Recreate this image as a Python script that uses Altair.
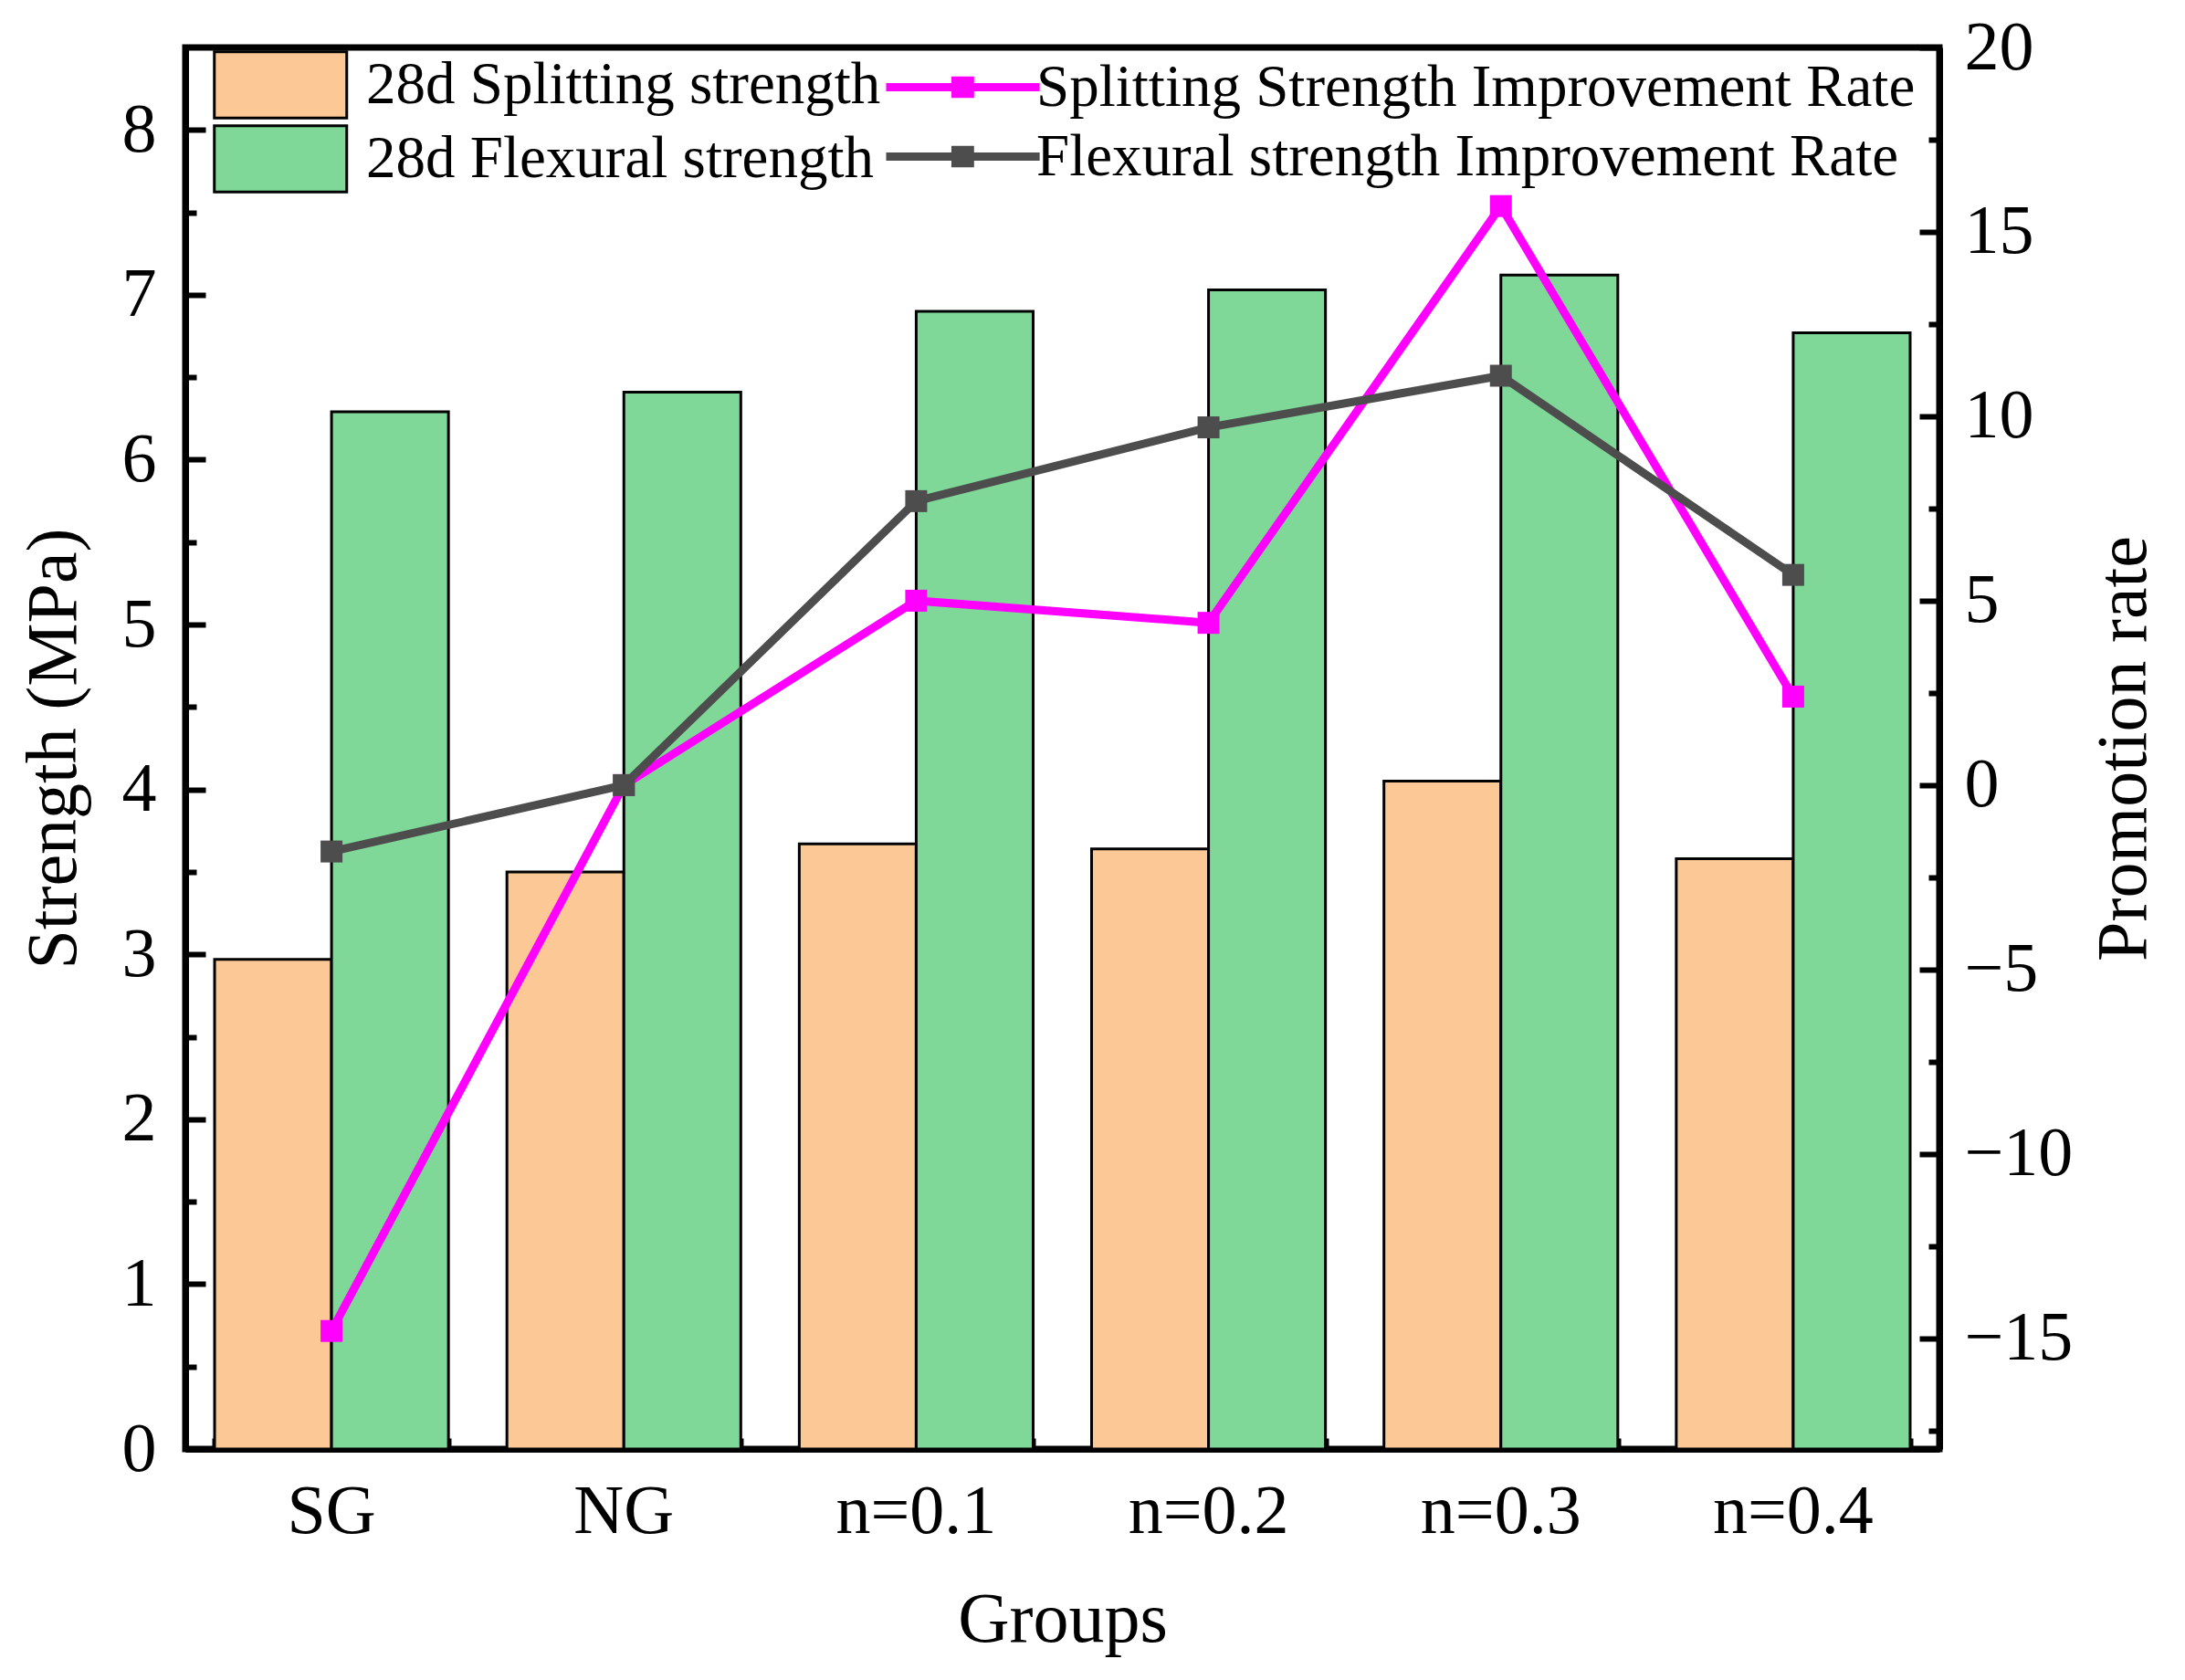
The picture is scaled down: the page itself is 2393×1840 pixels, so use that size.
import altair as alt
import pandas as pd

groups = ["SG", "NG", "n=0.1", "n=0.2", "n=0.3", "n=0.4"]
splitting_strength = [2.97, 3.50, 3.67, 3.64, 4.05, 3.58]
flexural_strength = [6.29, 6.41, 6.90, 7.03, 7.12, 6.77]
splitting_rate = [-14.8, 0.0, 5.0, 4.4, 15.7, 2.4]
flexural_rate = [-1.8, 0.0, 7.7, 9.7, 11.1, 5.7]

bar_series = ["28d Splitting strength", "28d Flexural strength"]
line_series = ["Splitting Strength Improvement Rate", "Flexural strength Improvement Rate"]
bar_colors = ["#FCC896", "#7FD898"]
line_colors = ["#FF00FF", "#4D4D4D"]

left_ticks = [0, 0.5, 1, 1.5, 2, 2.5, 3, 3.5, 4, 4.5, 5, 5.5, 6, 6.5, 7, 7.5, 8]
right_ticks = [-17.5, -15, -12.5, -10, -7.5, -5, -2.5, 0, 2.5, 5, 7.5, 10, 12.5, 15, 17.5, 20]

bars_df = pd.DataFrame({
    "group": groups + groups,
    "series": [bar_series[0]] * len(groups) + [bar_series[1]] * len(groups),
    "strength": splitting_strength + flexural_strength,
})
lines_df = pd.DataFrame({
    "group": groups + groups,
    "series": [line_series[0]] * len(groups) + [line_series[1]] * len(groups),
    "rate": splitting_rate + flexural_rate,
})

FONT = "Liberation Serif"
W, H = 1921, 1535

x_scale = alt.Scale(paddingInner=0.2, paddingOuter=0.1)

x_main = alt.X(
    "group:N", sort=groups, title="Groups", scale=x_scale,
    axis=alt.Axis(
        orient="bottom", offset=0,
        labelAngle=0, labelFontSize=76, labelFont=FONT, labelColor="black",
        labelPadding=53, titleFontSize=78, titleFont=FONT, titleFontWeight="normal",
        titleColor="black", titlePadding=42,
        domainColor="black", domainWidth=7,
        tickColor="black", tickWidth=6, tickSize={"expr": "-22"},
    ),
)
x_minor = alt.X(
    "group:N", sort=groups, scale=x_scale,
    axis=alt.Axis(
        orient="bottom", offset=0, title=None, labels=False, domain=False,
        tickBand="extent", tickColor="black", tickWidth=6, tickSize={"expr": "-12"},
    ),
)

bars = alt.Chart(bars_df).mark_bar(stroke="black", strokeWidth=3).encode(
    x=x_main,
    xOffset=alt.XOffset("series:N", sort=bar_series, scale=alt.Scale(paddingInner=0, paddingOuter=0)),
    y=alt.Y(
        "strength:Q", title="Strength (MPa)",
        scale=alt.Scale(domain=[0, 8.5], nice=False, zero=True),
        axis=alt.Axis(
            orient="left", values=left_ticks, grid=False,
            labelExpr="datum.value % 1 === 0 ? format(datum.value, 'd') : ''",
            labelFontSize=76, labelFont=FONT, labelColor="black", labelPadding=54,
            titleFontSize=78, titleFont=FONT, titleFontWeight="normal", titleColor="black",
            titlePadding=35,
            domainColor="black", domainWidth=7,
            tickColor="black", tickWidth=6,
            tickSize={"expr": "datum.value % 1 === 0 ? -22 : -12"},
        ),
    ),
    fill=alt.Fill(
        "series:N", sort=bar_series,
        scale=alt.Scale(domain=bar_series, range=bar_colors),
        legend=alt.Legend(
            title=None, orient="none", legendX=30, legendY=3,
            symbolType="M-1,-1H3V1H-1Z", symbolSize=5256,
            symbolStrokeColor="black", symbolStrokeWidth=3, symbolOpacity=1,
            labelFont=FONT, labelFontSize=65, labelColor="black", labelOffset=92,
            rowPadding=-6, padding=0, labelLimit=0,
        ),
    ),
)

line_legend = alt.Legend(
    title=None, orient="none", legendX=763, legendY=3,
    symbolType="M-1,0H3.67M1.11,-0.2H1.55V0.2H1.11Z", symbolSize=5184,
    symbolStrokeWidth=9, symbolOpacity=1,
    labelFont=FONT, labelFontSize=65, labelColor="black", labelOffset=88,
    rowPadding=2, padding=0, labelLimit=0,
)

y_right = alt.Y(
    "rate:Q", title="Promotion rate",
    scale=alt.Scale(domain=[-18, 20], nice=False, zero=False),
    axis=alt.Axis(
        orient="right", values=right_ticks, grid=False,
        labelExpr="datum.value % 5 === 0 ? datum.label : ''",
        labelFontSize=76, labelFont=FONT, labelColor="black", labelPadding=49,
        titleFontSize=78, titleFont=FONT, titleFontWeight="normal", titleColor="black",
        titlePadding=96, titleAngle=270,
        domainColor="black", domainWidth=7,
        tickColor="black", tickWidth=6,
        tickSize={"expr": "datum.value % 5 === 0 ? -22 : -12"},
    ),
)

color_enc = alt.Color(
    "series:N", sort=line_series,
    scale=alt.Scale(domain=line_series, range=line_colors),
    legend=line_legend,
)

lines = alt.Chart(lines_df).mark_line(strokeWidth=9, strokeCap="round", strokeJoin="round").encode(
    x=x_minor,
    y=y_right,
    color=color_enc,
)
points = alt.Chart(lines_df).mark_square(size=576, opacity=1, filled=True).encode(
    x=x_minor,
    y=y_right,
    color=color_enc,
)

chart = alt.layer(bars, lines + points).resolve_scale(
    y="independent", x="shared"
).resolve_axis(
    x="independent"
).properties(
    width=W, height=H,
    padding={"left": 12, "top": 6, "right": 2, "bottom": 5},
    background="white",
).configure_view(
    stroke="black", strokeWidth=7,
)

chart.save("out.html", embed_options={"renderer": "svg", "actions": False})
